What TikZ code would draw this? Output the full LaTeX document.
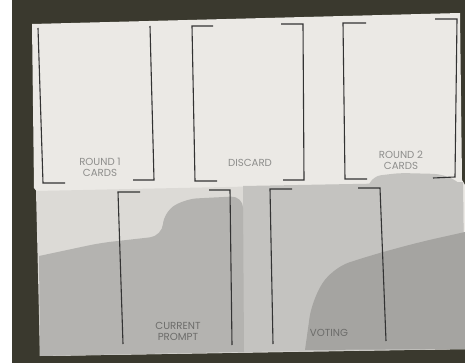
\documentclass[tikz,border=0pt]{standalone}
\usepackage{fontspec}
\setmainfont{Poppins}
\usetikzlibrary{positioning}
\definecolor{carpet}{HTML}{3A392E}
\definecolor{sheet}{HTML}{EBE9E5}
\definecolor{sheetlow}{HTML}{DCDAD6}
\definecolor{shadelight}{HTML}{C4C3C0}
\definecolor{shademid}{HTML}{B4B3B0}
\definecolor{shadedark}{HTML}{A5A4A1}
\definecolor{inkgray}{HTML}{333333}
\definecolor{labelgray}{HTML}{8E8E8C}
\definecolor{labeldark}{HTML}{6C6C6A}

\begin{document}
\begin{tikzpicture}[x=1pt,y=-1pt,
    bracketline/.style={draw=inkgray,line width=1.1pt},
    cardlabel/.style={text=labelgray,font=\fontsize{10.2}{11.5}\selectfont,align=center,inner sep=0pt}]
        \useasboundingbox (0,0) rectangle (465,363);
        % table and sheet
        \fill[carpet] (12,0) rectangle (465,363);
        \fill[sheet] (32,24) -- (460,13) -- (462,180) -- (465,185) -- (465,349) -- (40,356) -- (38,193) -- (34,188) -- cycle;
        \fill[sheetlow] (36,191) -- (463,182) -- (465,349) -- (40,356) -- cycle;
        % shadows on the lower half
        \fill[shadelight] (243,186) -- (463,182) -- (465,349) -- (243,352) -- cycle;
        \fill[shademid] (40,356) -- (39,256) [rounded corners=12pt] -- (100,243) -- (162,236) -- (164,212) -- (185,199) -- (243,196) [sharp corners] -- (244,352) -- cycle;
        \fill[shadedark] (465,349) -- (305,350) [rounded corners=18pt] -- (312,300) -- (332,268) -- (372,255) -- (420,242) [sharp corners] -- (465,232) -- cycle;
        \fill[shadelight] (368,186) [rounded corners=7pt] -- (374,176) -- (400,173) -- (440,174) -- (456,180) [sharp corners] -- (462,186) -- cycle;
        % top row of brackets
        \draw[bracketline] (38,28) -- (43,183) -- (65,183);
        \draw[bracketline] (150,26) -- (154,180) -- (133,180);
        \draw[bracketline] (213,26) -- (192,26) -- (195,181) -- (217,181);
        \draw[bracketline] (281,24) -- (303,24) -- (304,180) -- (283,180);
        \draw[bracketline] (366,23) -- (343,23) -- (345,179) -- (367,179);
        \draw[bracketline] (435,19) -- (457,19) -- (455,177) -- (433,178);
        % bottom row of brackets
        \draw[bracketline] (140,192) -- (118,192) -- (123,344);
        \draw[bracketline] (209,190) -- (230,190) -- (232,345);
        \draw[bracketline] (292,189) -- (270,189) -- (273,344);
        \draw[bracketline] (358,188) -- (380,188) -- (386,341);
        % labels
        \node[cardlabel] (roundone) at (100,167.5) {ROUND 1\\CARDS};
        \node[cardlabel] (discard) at (250,163) {DISCARD};
        \node[cardlabel] (roundtwo) at (401,160.5) {ROUND 2\\CARDS};
        \node[cardlabel,text=labeldark] (prompt) at (178,331.5) {CURRENT\\PROMPT};
        \node[cardlabel,text=labeldark] (voting) at (329,333) {VOTING};
    \end{tikzpicture}
\end{document}
